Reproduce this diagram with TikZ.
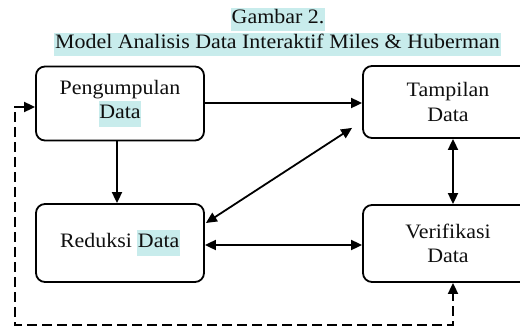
\documentclass[tikz,border=0pt]{standalone}
\usepackage{fontspec}
\setmainfont{Liberation Serif}[FakeStretch=1.07]
\usetikzlibrary{arrows.meta}
\definecolor{hl}{RGB}{200,236,236}
\definecolor{ink}{RGB}{15,15,15}
\newcommand\hlword[1]{{\setlength\fboxsep{0.5pt}\colorbox{hl}{\strut #1}}}
\begin{document}
\begin{tikzpicture}[x=1pt,y=-1pt,
  box/.style={draw=black, line width=1.8pt, rounded corners=9pt, minimum width=168pt,
    minimum height=74pt, align=center, inner sep=0pt, text=ink,
    font=\fontsize{20.5}{24.5}\selectfont},
  title/.style={fill=hl, inner xsep=1pt, inner ysep=0pt, text height=16pt, text depth=7pt,
    text=ink, font=\fontsize{20.5}{24}\selectfont},
  conn/.style={line width=1.8pt, draw=black},
  tip/.tip={Triangle[length=11pt,width=10pt]},
  dashline/.style={line width=1.8pt, dash pattern=on 10pt off 5pt}]
\useasboundingbox (0,0) rectangle (520,327);
\node[title] (t1) at (278,19) {Gambar 2.};
\node[title] (t2) at (277.5,44) {Model Analisis Data Interaktif Miles \& Huberman};
\begin{scope}
\clip (0,0) rectangle (520,327);
\node[box] (P) at (120,103.5) {Pengumpulan\\\hlword{Data}};
\node[box, minimum width=170pt, minimum height=72pt] (T) at (448,102) {Tampilan\\Data};
\node[box, minimum height=78pt] (R) at (120,243) {Reduksi \hlword{Data}};
\node[box, minimum width=170pt, minimum height=77pt] (V) at (448,243.5) {Verifikasi\\Data};
\end{scope}
\coordinate (c1) at (15,325);
\draw[conn, -tip] ([yshift=0.5pt]P.east) -- ([yshift=0.5pt]P.east -| T.west);
\draw[conn, -tip] ([xshift=-3pt]P.south) -- ([xshift=-3pt]P.south |- R.north);
\draw[conn, tip-tip] ([shift={(-10,-11)}]T.south west) -- ([shift={(1,-20)}]R.east);
\draw[conn, tip-tip] ([xshift=5pt]T.south) -- ([xshift=5pt]V.north);
\draw[conn, tip-tip] ([yshift=-2pt]R.east) -- ([yshift=-2pt]R.east -| V.west);
\draw[dashline, tip-tip] ([yshift=-3.5pt]P.west) -| (c1) -| ([xshift=5pt]V.south);
\end{tikzpicture}
\end{document}
